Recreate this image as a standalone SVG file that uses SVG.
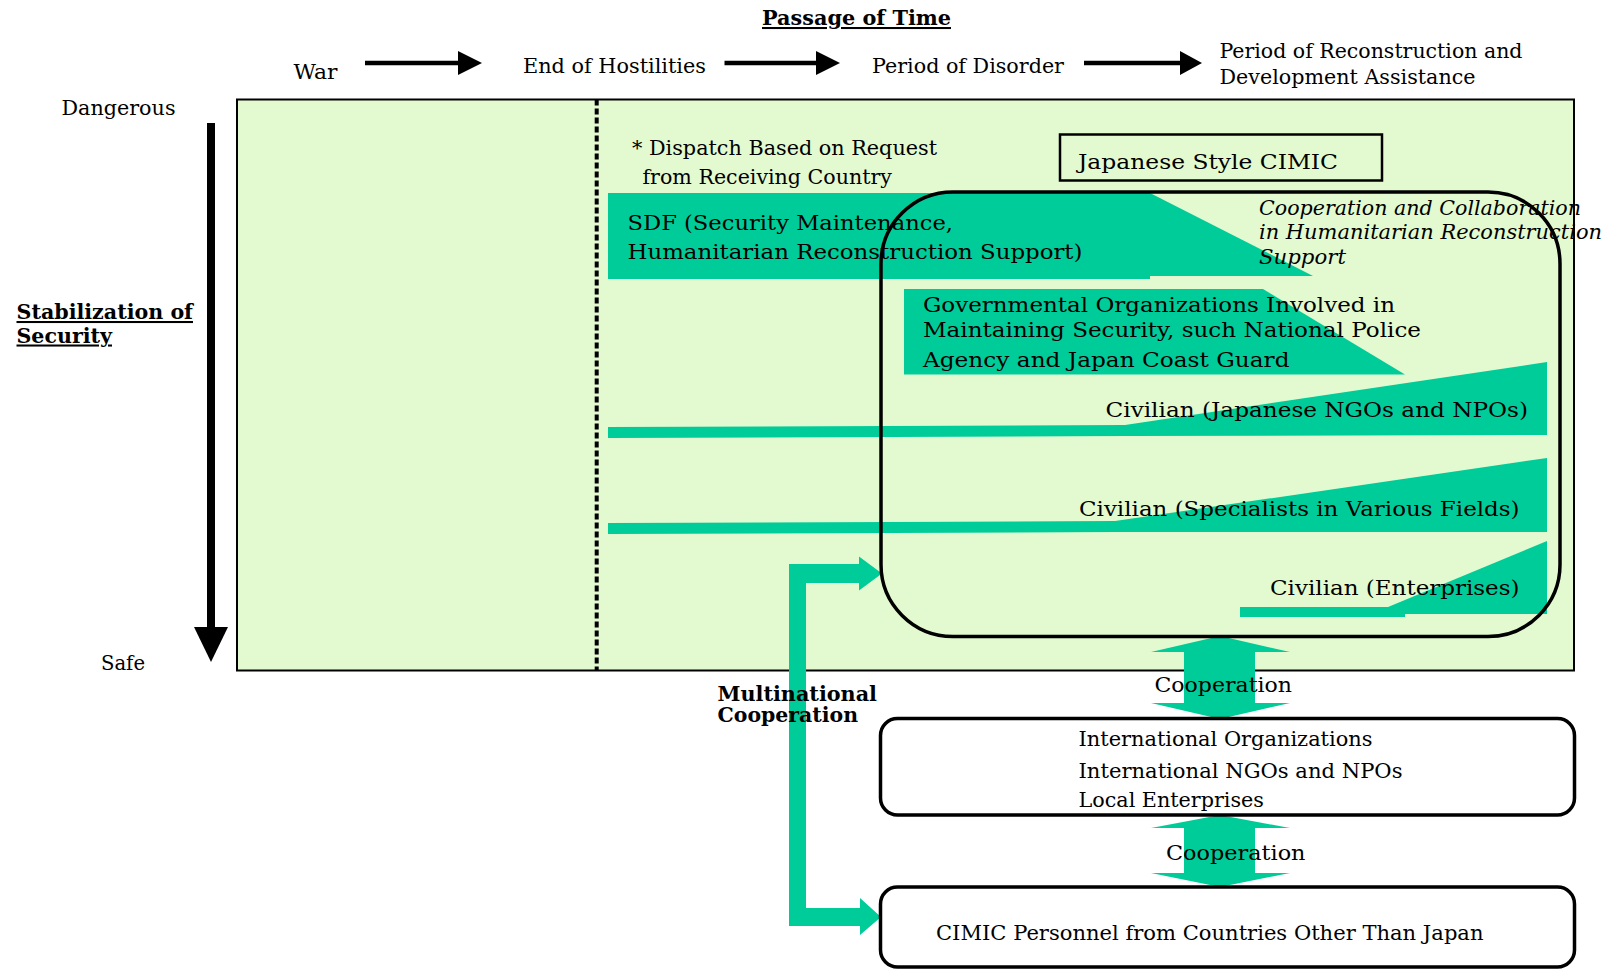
<svg xmlns="http://www.w3.org/2000/svg" width="1610" height="969" viewBox="0 0 1610 969">
<style>
.t{font-family:"DejaVu Serif","Liberation Serif",serif;font-size:20.5px;fill:#000}
.b{font-weight:bold}
.i{font-style:italic}
.u{text-decoration:underline}
.teal{fill:#00CC99}
.blk{fill:#000}
.box{fill:none;stroke:#000;stroke-width:3.5}
</style>
<rect width="1610" height="969" fill="#fff"/>

<g id="main-area">
<rect x="237" y="99.5" width="1337" height="571" fill="#E3FAD0" stroke="#000" stroke-width="2"/>
<line x1="596.7" y1="99.5" x2="596.7" y2="670" stroke="#000" stroke-width="4" stroke-dasharray="6 3"/>
</g>

<g id="connectors">
<g id="time-arrows">
<line x1="365" y1="63" x2="460" y2="63" stroke="#000" stroke-width="4.5"/>
<polygon class="blk" points="458,51 482,63 458,75"/>
<line x1="724.5" y1="63" x2="818" y2="63" stroke="#000" stroke-width="4.5"/>
<polygon class="blk" points="816,51 840,63 816,75"/>
<line x1="1084" y1="63" x2="1182" y2="63" stroke="#000" stroke-width="4.5"/>
<polygon class="blk" points="1180,51 1202,63 1180,75"/>
</g>
<g id="security-arrow">
<rect x="207" y="123" width="8" height="506" class="blk"/>
<polygon class="blk" points="194,627 228,627 211,662"/>
</g>
<polygon id="coop-arrow-1" class="teal" points="1220,636 1290,652 1255,652 1255,703 1290,703 1220,719 1151,703 1184,703 1184,652 1151,652"/>
<polygon id="coop-arrow-2" class="teal" points="1220,815 1290,828 1255,828 1255,873 1290,873 1220,887 1151,873 1184,873 1184,828 1151,828"/>
<path id="multinational-arrow" class="teal" d="M789,564 L859,564 L859,556.5 L882,573.5 L859,590.5 L859,583 L806,583 L806,908 L860,908 L860,898 L881,917 L860,935 L860,926 L789,926 Z"/>
</g>

<g id="title">
<text class="t b u" x="762" y="25" textLength="189" lengthAdjust="spacingAndGlyphs">Passage of Time</text>
</g>
<g id="phase-war"><text class="t" x="293.5" y="79" textLength="44" lengthAdjust="spacingAndGlyphs">War</text></g>
<g id="phase-end"><text class="t" x="523" y="73" textLength="183" lengthAdjust="spacingAndGlyphs">End of Hostilities</text></g>
<g id="phase-disorder"><text class="t" x="872" y="72.5" textLength="192" lengthAdjust="spacingAndGlyphs">Period of Disorder</text></g>
<g id="phase-reconstruction">
<text class="t" x="1219.5" y="58" textLength="303" lengthAdjust="spacingAndGlyphs">Period of Reconstruction and</text>
<text class="t" x="1219.5" y="83.5" textLength="256" lengthAdjust="spacingAndGlyphs">Development Assistance</text>
</g>

<g id="security-axis">
<text class="t" x="61.5" y="115" textLength="114" lengthAdjust="spacingAndGlyphs">Dangerous</text>
<text class="t" x="101" y="670" textLength="44" lengthAdjust="spacingAndGlyphs">Safe</text>
<text class="t b u" x="16.5" y="319" font-size="21.5" textLength="176.5" lengthAdjust="spacingAndGlyphs">Stabilization of</text>
<text class="t b u" x="16.5" y="342.5" font-size="21.5" textLength="95.5" lengthAdjust="spacingAndGlyphs">Security</text>
</g>

<g id="dispatch-note">
<text class="t" x="632" y="155" textLength="305" lengthAdjust="spacingAndGlyphs">* Dispatch Based on Request</text>
<text class="t" x="642.5" y="184" textLength="249.5" lengthAdjust="spacingAndGlyphs">from Receiving Country</text>
</g>

<g id="japanese-cimic-label">
<rect x="1060" y="134.5" width="322" height="46" fill="none" stroke="#000" stroke-width="2.5"/>
<text class="t" x="1078" y="168.5" font-size="21" textLength="260" lengthAdjust="spacingAndGlyphs">Japanese Style CIMIC</text>
</g>

<g id="sdf">
<polygon class="teal" points="608,193 1150,193 1313,276 1150,276 1150,279 608,279"/>
</g>
<g id="gov-orgs">
<polygon class="teal" points="904,289 1263,289 1405,374.5 904,374.5"/>
</g>
<g id="civ-ngo">
<polygon class="teal" points="608,427 1125,425 1547,362 1547,435 1125,436 608,438"/>
</g>
<g id="civ-spec">
<polygon class="teal" points="608,523 1115,521 1547,458 1547,532 1115,532 608,534"/>
</g>
<g id="civ-ent">
<polygon class="teal" points="1240,607 1388,607 1547,541 1547,614 1405,614 1405,617 1240,617"/>
</g>

<g id="cimic-boundary">
<rect class="box" x="881" y="192" width="679" height="444.5" rx="72" ry="72"/>
<text class="t i" x="1259" y="215" textLength="322" lengthAdjust="spacingAndGlyphs">Cooperation and Collaboration</text>
<text class="t i" x="1259" y="238.5" textLength="343" lengthAdjust="spacingAndGlyphs">in Humanitarian Reconstruction</text>
<text class="t i" x="1259" y="263.5" textLength="87" lengthAdjust="spacingAndGlyphs">Support</text>
</g>

<g id="sdf-text">
<text class="t" x="627.5" y="230" font-size="21.5" textLength="325.5" lengthAdjust="spacingAndGlyphs">SDF (Security Maintenance,</text>
<text class="t" x="627.5" y="258.5" font-size="21.5" textLength="455" lengthAdjust="spacingAndGlyphs">Humanitarian Reconstruction Support)</text>
</g>
<g id="gov-orgs-text">
<text class="t" x="923" y="311.5" font-size="21.5" textLength="472" lengthAdjust="spacingAndGlyphs">Governmental Organizations Involved in</text>
<text class="t" x="923" y="337" font-size="21.5" textLength="498" lengthAdjust="spacingAndGlyphs">Maintaining Security, such National Police</text>
<text class="t" x="923" y="366.5" font-size="21.5" textLength="366.5" lengthAdjust="spacingAndGlyphs">Agency and Japan Coast Guard</text>
</g>
<g id="civ-ngo-text"><text class="t" x="1105.5" y="416.5" font-size="21" textLength="422.5" lengthAdjust="spacingAndGlyphs">Civilian (Japanese NGOs and NPOs)</text></g>
<g id="civ-spec-text"><text class="t" x="1079" y="516" font-size="21" textLength="440.5" lengthAdjust="spacingAndGlyphs">Civilian (Specialists in Various Fields)</text></g>
<g id="civ-ent-text"><text class="t" x="1270" y="595" font-size="21" textLength="249.5" lengthAdjust="spacingAndGlyphs">Civilian (Enterprises)</text></g>

<g id="multinational-label">
<text class="t b" x="717.5" y="700.5" font-size="22" textLength="159.5" lengthAdjust="spacingAndGlyphs">Multinational</text>
<text class="t b" x="717.5" y="721.5" font-size="22" textLength="140.5" lengthAdjust="spacingAndGlyphs">Cooperation</text>
</g>

<g id="coop-label-1"><text class="t" x="1154.5" y="691.5" font-size="21.5" textLength="137.5" lengthAdjust="spacingAndGlyphs">Cooperation</text></g>

<g id="international-box">
<rect class="box" x="880.5" y="718.5" width="694" height="96.5" rx="17" ry="17" fill="#fff"/>
<text class="t" x="1078.5" y="746" font-size="20" textLength="294" lengthAdjust="spacingAndGlyphs">International Organizations</text>
<text class="t" x="1078.5" y="777.5" font-size="20" textLength="324" lengthAdjust="spacingAndGlyphs">International NGOs and NPOs</text>
<text class="t" x="1078.5" y="806.5" font-size="20" textLength="185.5" lengthAdjust="spacingAndGlyphs">Local Enterprises</text>
</g>

<g id="coop-label-2"><text class="t" x="1166" y="859.5" font-size="21.5" textLength="139.5" lengthAdjust="spacingAndGlyphs">Cooperation</text></g>

<g id="cimic-personnel-box">
<rect class="box" x="880.5" y="887" width="694" height="80" rx="17" ry="17"/>
<text class="t" x="936" y="940" font-size="19.5" textLength="547.5" lengthAdjust="spacingAndGlyphs">CIMIC Personnel from Countries Other Than Japan</text>
</g>
</svg>
